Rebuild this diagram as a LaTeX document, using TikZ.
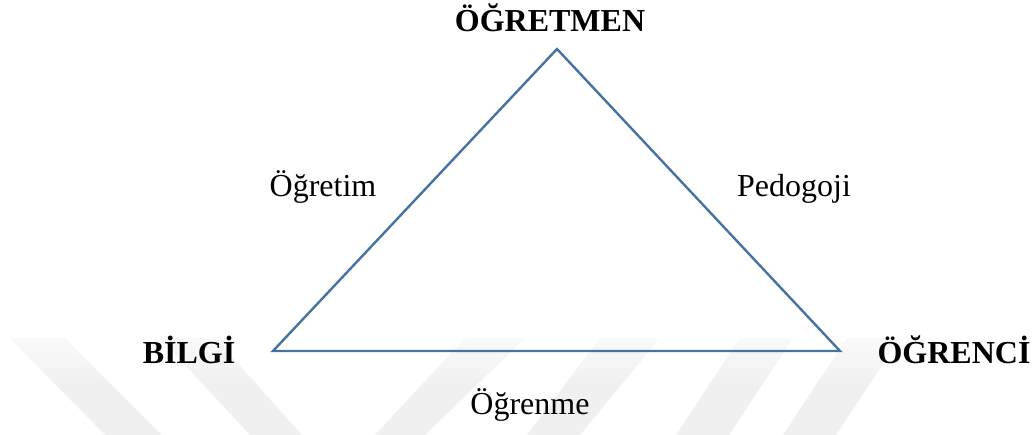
\documentclass[tikz,border=0pt]{standalone}
\usepackage{fontspec}
\setmainfont{Liberation Serif}
\usepackage{tikz}
\usetikzlibrary{positioning, calc}
\definecolor{EdgeBlue}{RGB}{70,115,160}
\definecolor{MarkGray}{RGB}{240,240,240}
\tikzset{
  cornerlabel/.style={font=\fontsize{24}{28}\selectfont\bfseries,
    anchor=base,inner sep=0pt},
  sidelabel/.style={font=\fontsize{24}{28}\selectfont,
    anchor=base,inner sep=0pt},
  edgeline/.style={draw=EdgeBlue,line width=1.8pt,line join=miter},
  markband/.style={top color=white!60!MarkGray,bottom color=MarkGray,
    middle color=MarkGray,draw=none}
}

\begin{document}
\begin{tikzpicture}[x=0.75pt,y=-0.75pt]
  \fill[white] (0,0) rectangle (1033,435);
  \useasboundingbox (0,0) rectangle (1033,435);
  % faint watermark bands
  \foreach \ta/\tb/\ba/\bb in {10/65/105/162,160/215/250/302,
      465/525/375/425,600/660/527/580,740/793/676/729,847/900/783/836}
    \shade[markband] (\ta,338) -- (\tb,338) -- (\bb,435) -- (\ba,435) -- cycle;
  % triangle
  \coordinate (top) at (557,49);
  \coordinate (left) at (273,351);
  \coordinate (right) at (840,351);
  \draw[edgeline] (top) -- (left) -- (right) -- cycle;
  % corners
  \node[cornerlabel] (ogretmen) at (550,32) {ÖĞRETMEN};
  \node[cornerlabel] (bilgi) at (189,363) {BİLGİ};
  \node[cornerlabel] (ogrenci) at (954,363) {ÖĞRENCİ};
  % sides
  \node[sidelabel] (ogretim) at (323,196) {Öğretim};
  \node[sidelabel] (pedogoji) at (794,196) {Pedogoji};
  \node[sidelabel] (ogrenme) at (530,414) {Öğrenme};
\end{tikzpicture}
\end{document}
